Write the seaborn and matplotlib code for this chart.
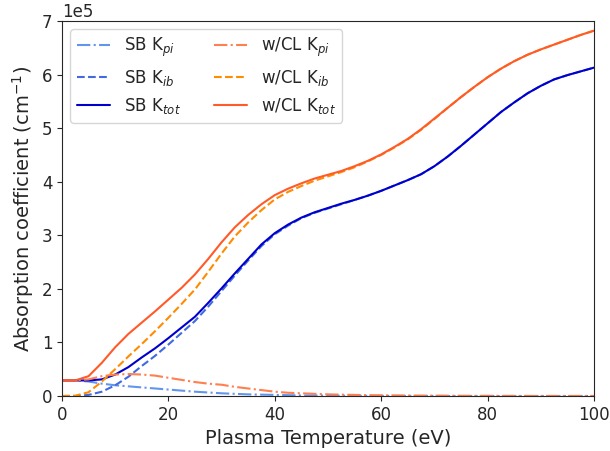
import matplotlib
matplotlib.use("Agg")
import matplotlib.pyplot as plt
import seaborn as sns
import pandas as pd

# Plasma temperature grid (eV)
temperature = [0, 2.5, 5, 7.5, 10, 12.5, 15, 17.5, 20, 22.5, 25, 27.5, 30, 32.5,
               35, 37.5, 40, 42.5, 45, 47.5, 50, 52.5, 55, 57.5, 60, 62.5, 65,
               67.5, 70, 72.5, 75, 77.5, 80, 82.5, 85, 87.5, 90, 92.5, 95, 97.5,
               100]

# Absorption coefficients in units of 1e5 cm^-1 -- single-band model
sb_pi = [0.29, 0.29, 0.27, 0.23, 0.20,
         0.18, 0.16, 0.14, 0.12, 0.10,
         0.08, 0.065, 0.05, 0.04, 0.03,
         0.025, 0.02, 0.015, 0.01, 0.008,
         0.006, 0.005, 0.004, 0.003, 0.002,
         0.002, 0.001, 0.001, 0.001, 0.0,
         0.0, 0.0, 0.0, 0.0, 0.0,
         0.0, 0.0, 0.0, 0.0, 0.0,
         0.0]
sb_ib = [0.0, 0.0, 0.02, 0.08, 0.20,
         0.36, 0.56, 0.75, 0.96, 1.18,
         1.40, 1.67, 1.96, 2.25, 2.53,
         2.80, 3.02, 3.18, 3.32, 3.42,
         3.50, 3.58, 3.66, 3.74, 3.83,
         3.93, 4.03, 4.14, 4.29, 4.47,
         4.67, 4.88, 5.09, 5.30, 5.48,
         5.65, 5.79, 5.91, 5.99, 6.06,
         6.13]
sb_tot = [0.29, 0.29, 0.29, 0.31, 0.40,
          0.54, 0.72, 0.89, 1.08, 1.28,
          1.48, 1.74, 2.01, 2.29, 2.56,
          2.83, 3.04, 3.20, 3.33, 3.43,
          3.51, 3.59, 3.66, 3.74, 3.83,
          3.93, 4.03, 4.14, 4.29, 4.47,
          4.67, 4.88, 5.09, 5.30, 5.48,
          5.65, 5.79, 5.91, 5.99, 6.06,
          6.13]

# Absorption coefficients in units of 1e5 cm^-1 -- with continuum lowering
cl_pi = [0.29, 0.29, 0.31, 0.37, 0.40,
         0.41, 0.40, 0.38, 0.34, 0.30,
         0.26, 0.23, 0.21, 0.17, 0.14,
         0.11, 0.08, 0.06, 0.05, 0.04,
         0.03, 0.025, 0.02, 0.015, 0.012,
         0.01, 0.008, 0.006, 0.005, 0.004,
         0.003, 0.002, 0.002, 0.001, 0.001,
         0.0, 0.0, 0.0, 0.0, 0.0,
         0.0]
cl_ib = [0.0, 0.005, 0.07, 0.27, 0.50,
         0.74, 0.97, 1.21, 1.46, 1.72,
         1.99, 2.32, 2.66, 2.98, 3.24,
         3.47, 3.67, 3.81, 3.92, 4.02,
         4.10, 4.18, 4.27, 4.38, 4.50,
         4.64, 4.79, 4.97, 5.17, 5.38,
         5.58, 5.77, 5.95, 6.11, 6.25,
         6.37, 6.47, 6.56, 6.65, 6.74,
         6.82]
cl_tot = [0.29, 0.29, 0.37, 0.62, 0.91,
          1.16, 1.37, 1.58, 1.80, 2.02,
          2.27, 2.56, 2.87, 3.15, 3.38,
          3.58, 3.75, 3.87, 3.97, 4.06,
          4.13, 4.20, 4.29, 4.39, 4.51,
          4.65, 4.80, 4.98, 5.18, 5.38,
          5.58, 5.77, 5.95, 6.11, 6.25,
          6.37, 6.47, 6.56, 6.65, 6.74,
          6.82]

UNIT = 1e5

series = [
    ("SB K$_{pi}$", sb_pi, "cornflowerblue", "-."),
    ("SB K$_{ib}$", sb_ib, "royalblue", "--"),
    ("SB K$_{tot}$", sb_tot, "mediumblue", "-"),
    ("w/CL K$_{pi}$", cl_pi, "coral", "-."),
    ("w/CL K$_{ib}$", cl_ib, "darkorange", "--"),
    ("w/CL K$_{tot}$", cl_tot, "#ff5a28", "-"),
]

sns.set_style("ticks")
plt.rcParams["font.family"] = ["DejaVu Sans"]

fig, ax = plt.subplots(figsize=(6.1, 4.51), dpi=100)
fig.subplots_adjust(left=0.1016, right=0.9738, top=0.9534, bottom=0.122)

for label, values, color, ls in series:
    df = pd.DataFrame({"T": temperature, "K": [v * UNIT for v in values]})
    sns.lineplot(data=df, x="T", y="K", ax=ax, color=color, linestyle=ls,
                 linewidth=1.5, label=label)

ax.set_xlim(0, 100)
ax.set_ylim(0, 7e5)
ax.ticklabel_format(axis="y", style="sci", scilimits=(5, 5))
ax.yaxis.get_offset_text().set_fontsize(12)
ax.tick_params(labelsize=12)
ax.set_xlabel("Plasma Temperature (eV)", fontsize=14)
ax.set_ylabel("Absorption coefficient (cm$^{-1}$)", fontsize=14)
ax.legend(ncol=2, fontsize=12, loc="upper left", frameon=True)

fig.savefig("out.png", dpi=100)
